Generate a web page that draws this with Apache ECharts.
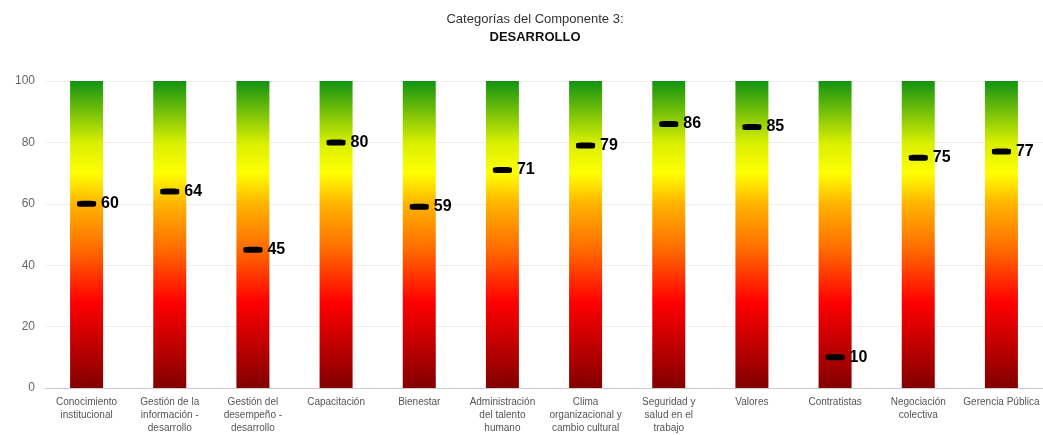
<!DOCTYPE html>
<html><head><meta charset="utf-8">
<script src="https://cdn.jsdelivr.net/npm/echarts@6/dist/echarts.min.js"></script>
<style>html,body{margin:0;padding:0;background:#fff}#c{width:1043px;height:435px}</style>
</head><body><div id="c"></div>
<script>
const categories = [
  "Conocimiento\ninstitucional",
  "Gestión de la\ninformación -\ndesarrollo",
  "Gestión del\ndesempeño -\ndesarrollo",
  "Capacitación",
  "Bienestar",
  "Administración\ndel talento\nhumano",
  "Clima\norganizacional y\ncambio cultural",
  "Seguridad y\nsalud en el\ntrabajo",
  "Valores",
  "Contratistas",
  "Negociación\ncolectiva",
  "Gerencia Pública"
];
const scores = [60, 64, 45, 80, 59, 71, 79, 86, 85, 10, 75, 77];
const scaleMax = [100, 100, 100, 100, 100, 100, 100, 100, 100, 100, 100, 100];
const yTicks = [0, 20, 40, 60, 80, 100];

const chart = echarts.init(document.getElementById('c'));
chart.setOption({
  animation: false,
  textStyle: { fontFamily: 'Liberation Sans, Arial, sans-serif' },
  title: {
    text: '{a|Categorías del Componente 3:}\n{b|DESARROLLO}',
    left: 530, top: 5, textAlign: 'center',
    textStyle: {
      fontWeight: 'normal',
      rich: {
        a: { fontSize: 13, color: '#333', lineHeight: 18, fontWeight: 'normal', fontFamily: 'Liberation Sans' },
        b: { fontSize: 13, color: '#111', fontWeight: 'bold', lineHeight: 18, fontFamily: 'Liberation Sans' }
      }
    }
  },
  grid: { left: 45, right: 0, top: 81, bottom: 45 },
  xAxis: {
    type: 'category', data: categories,
    axisLine: { lineStyle: { color: '#ccc' } },
    axisTick: { show: false },
    axisLabel: { interval: 0, fontSize: 10, color: '#555', lineHeight: 13, margin: 8 }
  },
  yAxis: {
    type: 'value', min: yTicks[0], max: yTicks[yTicks.length - 1], interval: 20,
    axisLine: { show: false }, axisTick: { show: false },
    splitLine: { lineStyle: { color: '#eee' } },
    axisLabel: { fontSize: 12, color: '#666', margin: 10 }
  },
  series: [
    {
      type: 'bar', data: scaleMax, barWidth: 33, silent: true,
      itemStyle: {
        color: new echarts.graphic.LinearGradient(0, 0, 0, 1, [
          { offset: 0, color: '#129312' },
          { offset: 0.2, color: '#d8ee00' },
          { offset: 0.3, color: '#ffff00' },
          { offset: 0.4, color: '#ffb400' },
          { offset: 0.55, color: '#ff6a00' },
          { offset: 0.72, color: '#ff0000' },
          { offset: 1, color: '#820000' }
        ])
      }
    },
    {
      type: 'scatter', data: scores, symbol: 'roundRect', symbolSize: [19, 6],
      itemStyle: { color: '#000', opacity: 1 }, z: 5,
      label: { show: true, position: 'right', distance: 5, fontSize: 16, fontWeight: 'bold', color: '#000', fontFamily: 'Liberation Sans' }
    }
  ]
});
</script></body></html>
